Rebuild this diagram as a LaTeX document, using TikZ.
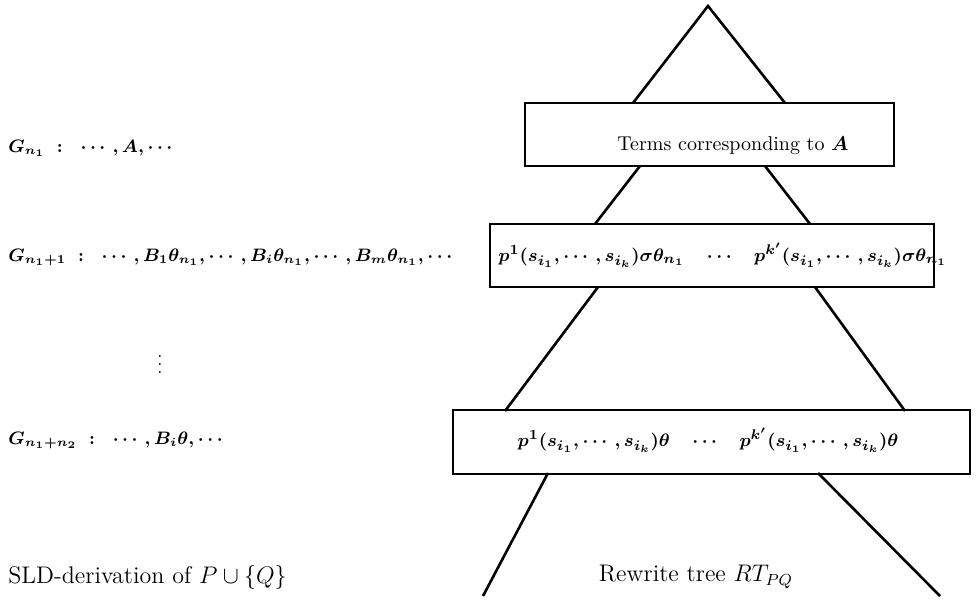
\documentclass[tikz,border=0pt]{standalone}
\usepackage{amsmath,amssymb}
\usepackage{tikz}

\tikzset{
  tbox/.style={draw, line width=1.3pt, inner sep=0pt},
  goal/.style={anchor=west, inner sep=0pt, font=\small\boldmath},
  term/.style={inner sep=0pt, font=\fontsize{9.4}{11}\selectfont\boldmath},
  edge/.style={line width=1.3pt},
}

\begin{document}
\begin{tikzpicture}[x=0.5pt, y=-0.5pt]
\useasboundingbox (0,0) rectangle (976,600);

% boxes of the rewrite tree
\node[tbox, minimum width=184.5pt, minimum height=31.5pt] (b1) at (709.5,134.5) {};
\node[tbox, minimum width=222pt, minimum height=31.5pt] (b2) at (712,255.5) {};
\node[tbox, minimum width=258.5pt, minimum height=32pt] (b3) at (711.5,442) {};

\node[inner sep=0pt] (t1) at (733,146) {Terms corresponding to $\boldsymbol{A}$};
\node[term, anchor=west] (t2) at (498,255) {$p^1(s_{i_1},\cdots,s_{i_k})\sigma\theta_{n_1}\quad\cdots\quad p^{k'}(s_{i_1},\cdots,s_{i_k})\sigma\theta_{n_1}$};
\node[term] (t3) at (708,440) {$p^1(s_{i_1},\cdots,s_{i_k})\theta\quad\cdots\quad p^{k'}(s_{i_1},\cdots,s_{i_k})\theta$};

% sides of the tree
\coordinate (apex) at (708,6);
\coordinate (l1) at (633,103);  \coordinate (r1) at (785,103);
\coordinate (l2) at (640,166);  \coordinate (r2) at (765,166);
\coordinate (l3) at (595,224);  \coordinate (r3) at (810,224);
\coordinate (l4) at (598,287);  \coordinate (r4) at (815,287);
\coordinate (l5) at (505,411);  \coordinate (r5) at (905,411);
\coordinate (l6) at (548,473);  \coordinate (r6) at (818,473);
\coordinate (l7) at (483,596);  \coordinate (r7) at (940,596);

\draw[edge] (l1) -- (apex) -- (r1);
\draw[edge] (l2) -- (l3);
\draw[edge] (r2) -- (r3);
\draw[edge] (l4) -- (l5);
\draw[edge] (r4) -- (r5);
\draw[edge] (l6) -- (l7);
\draw[edge] (r6) -- (r7);

% SLD-derivation
\node[goal] (g1) at (8,148) {$G_{n_1}\;:\;\;\cdots,A,\cdots$};
\node[goal] (g2) at (8,257) {$G_{n_1+1}\;:\;\;\cdots,B_1\theta_{n_1},\cdots,B_i\theta_{n_1},\cdots,B_m\theta_{n_1},\cdots$};
\node[goal] (g3) at (157,359) {$\vdots$};
\node[goal] (g4) at (8,440) {$G_{n_1+n_2}\;:\;\;\cdots,B_i\theta,\cdots$};

\node[anchor=west, inner sep=0pt, font=\large] (c1) at (8,577) {SLD-derivation of $P\cup\{Q\}$};
\node[inner sep=0pt, font=\large] (c2) at (696,577) {Rewrite tree $RT_{PQ}$};
\end{tikzpicture}
\end{document}
